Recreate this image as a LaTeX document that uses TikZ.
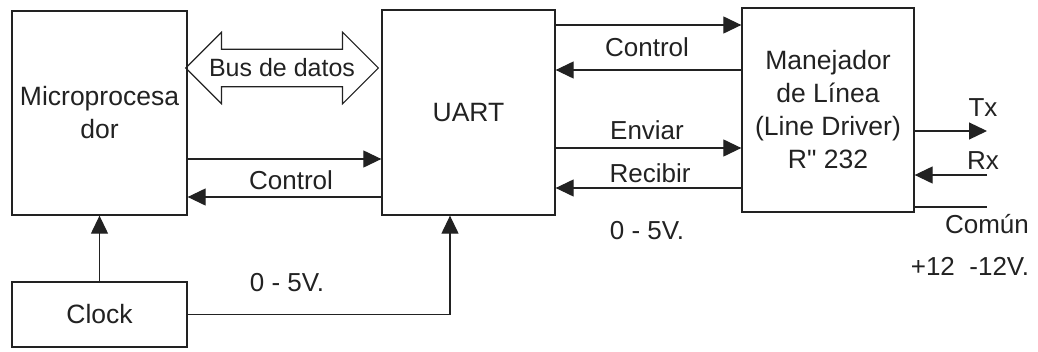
\documentclass[tikz,border=0pt]{standalone}
\usepackage{fontspec}
\setmainfont{Liberation Sans}[Ligatures=TeXOff]
\usetikzlibrary{arrows.meta, positioning, calc, shapes.arrows}
\definecolor{inkgray}{HTML}{222222}

\begin{document}
\begin{tikzpicture}[x=1pt, y=-1pt,
    blk/.style={draw=inkgray, line width=1.3pt, inner sep=0pt, align=center,
                font=\fontsize{26.5}{33}\selectfont, text=inkgray},
    lbl/.style={font=\fontsize{26}{30}\selectfont, text=inkgray, inner sep=0pt},
    sig/.style={draw=inkgray, line width=1.2pt, -{Triangle[length=18pt, width=17pt]}},
    wire/.style={draw=inkgray, line width=1.2pt},
    bus/.style={double arrow, draw=inkgray, line width=1.2pt,
                double arrow tip angle=90, double arrow head extend=17pt,
                minimum height=189pt, inner xsep=4pt, inner ysep=9pt,
                font=\fontsize{25}{30}\selectfont, text=inkgray}]
  \useasboundingbox (0,0) rectangle (1038,351);
  %% Blocks ──────────────────────────────────────────────────────
  \node[blk, minimum width=175pt, minimum height=204pt] (micro) at (99.5,113)
    {Microprocesa\\dor};
  \node[blk, minimum width=175pt, minimum height=65pt] (clock) at (99.5,314.5)
    {Clock};
  \node[blk, minimum width=173pt, minimum height=205pt] (uart) at (468.5,112.5)
    {UART};
  \node[blk, minimum width=172pt, minimum height=204pt] (driver) at (828,110)
    {Manejador\\de Línea\\(Line Driver)\\R" 232};
  %% Bus de datos ────────────────────────────────────────────────
  \node[bus] (bus) at (282,68) {Bus de datos};
  %% Micro <-> UART ──────────────────────────────────────────────
  \draw[sig] (micro.east |- 0,159) -- (uart.west |- 0,159);
  \draw[sig] (uart.west |- 0,197) -- (micro.east |- 0,197);
  \node[lbl] (ctlA) at (291,180) {Control};
  %% Clock ───────────────────────────────────────────────────────
  \draw[sig] (clock.north -| micro.south) -- (micro.south);
  \draw[sig] (clock.east) -| (uart.south -| 450,0);
  \node[lbl] (voltA) at (287,283) {0 - 5V.};
  %% UART <-> Line driver ────────────────────────────────────────
  \draw[sig] (uart.east |- 0,25) -- (driver.west |- 0,25);
  \draw[sig] (driver.west |- 0,70) -- (uart.east |- 0,70);
  \node[lbl] (ctlB) at (647,47) {Control};
  \draw[sig] (uart.east |- 0,148) -- (driver.west |- 0,148);
  \node[lbl] (send) at (647,130) {Enviar};
  \draw[sig] (driver.west |- 0,188) -- (uart.east |- 0,188);
  \node[lbl] (recv) at (650,173) {Recibir};
  \node[lbl] (voltB) at (647,231) {0 - 5V.};
  %% Line side ───────────────────────────────────────────────────
  \coordinate (txEnd) at (987,131);
  \coordinate (rxEnd) at (987,175);
  \coordinate (gndEnd) at (987,207);
  \draw[sig] (driver.east |- txEnd) -- (txEnd);
  \draw[sig] (rxEnd) -- (driver.east |- rxEnd);
  \draw[wire] (driver.east |- gndEnd) -- (gndEnd);
  \node[lbl] (tx) at (983,108) {Tx};
  \node[lbl] (rx) at (983,161) {Rx};
  \node[lbl] (gnd) at (987,224) {Común};
  \node[lbl] (volt12) at (970,266) {+12~~-12V.};
\end{tikzpicture}
\end{document}
